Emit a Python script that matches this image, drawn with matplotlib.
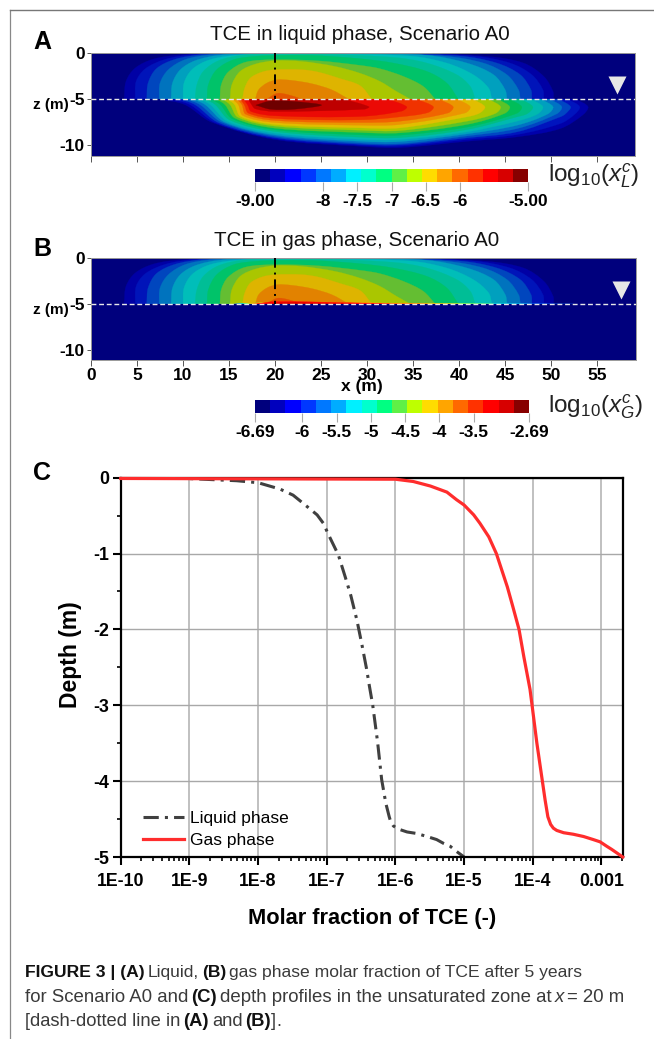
import numpy as np
import matplotlib
matplotlib.use('Agg')
import matplotlib.pyplot as plt
from matplotlib.colors import ListedColormap
from matplotlib.lines import Line2D
from matplotlib.path import Path
from matplotlib.patches import PathPatch, Rectangle
from matplotlib.ticker import FixedLocator, NullFormatter

plt.rcParams['font.family'] = ['Liberation Sans', 'DejaVu Sans']
plt.rcParams['mathtext.fontset'] = 'custom'
plt.rcParams['mathtext.rm'] = 'Liberation Sans'
plt.rcParams['mathtext.it'] = 'Liberation Sans:italic'

W, H = 654, 1039

# colour scale, bottom to top
band_rgb = [(0, 0, 125), (0, 0, 190), (0, 0, 255), (0, 55, 255), (0, 120, 255), (0, 172, 255),
            (0, 240, 255), (0, 255, 205), (0, 255, 130), (95, 240, 70), (190, 255, 0), (255, 220, 0),
            (255, 165, 0), (255, 105, 0), (255, 50, 0), (255, 0, 0), (215, 0, 0), (135, 0, 0)]
# the maps look duller than the colour bar
upper_rgb = [(0, 0, 165), (0, 20, 185), (0, 70, 190), (0, 115, 190), (0, 160, 190), (0, 190, 185),
             (0, 190, 150), (0, 195, 105), (100, 190, 50), (170, 198, 0), (222, 180, 0),
             (226, 130, 0), (228, 85, 0)]
lower_rgb = [(0, 0, 170), (0, 20, 190), (0, 70, 195), (0, 115, 195), (0, 160, 190), (0, 185, 175),
             (0, 190, 130), (0, 190, 90), (90, 195, 40), (170, 200, 0), (225, 190, 0), (235, 150, 0),
             (240, 100, 0), (240, 50, 0), (235, 10, 5), (190, 0, 0)]
core_rgb = (110, 0, 0)

# contours above the water table (x m, z m)
upper_x = [
    [3.6, 3.8, 4.8, 6.8, 9.85, 13.85, 34.7, 43, 47, 49.2, 50.2, 50.25],
    [4.8, 4.9, 5.9, 8.05, 10.95, 14.55, 32.85, 41.55, 45.55, 47.9, 49.1, 49.2],
    [6.05, 6.2, 7.1, 9.1, 12, 15.65, 31.05, 40.1, 44.1, 46.65, 47.8, 47.9],
    [7.4, 7.5, 8.4, 10.2, 12.75, 16.4, 29.25, 38.3, 42.65, 45.2, 46.45, 46.65],
    [8.7, 8.85, 9.7, 11.3, 13.85, 17.45, 29.25, 36.5, 40.85, 43.75, 45, 45.2],
    [10, 10.1, 10.95, 12.6, 14.9, 18.2, 24.7, 34.7, 38.65, 41.55, 43.2, 43.55],
    [11.3, 11.5, 12.2, 13.85, 16.4, 20, 24.7, 32.85, 36.5, 39.75, 41.2, 41.75],
    [12.6, 12.75, 13.65, 15.5, 17.85, 21.1, 24.7, 29.25, 32.85, 36.5, 38.65, 39.9],
    [14, 14.15, 14.9, 16.75, 20, 24.7, 29.25, 31.4, 33.95, 36.1, 37.4],
    [15.1, 15.3, 16.2, 17.85, 20, 22.9, 26.5, 29.25, 31.4, 33.2, 34.7],
    [16.45, 16.7, 17.3, 18.55, 20, 22.9, 24.7, 27, 29.25, 30.5],
    [17.85, 18.2, 19.1, 20.2, 21.8, 24, 26.15, 28],
    [19.1, 20.2, 21.45, 22.9],
]
upper_z = [
    [-5, -3.08, -1.63, -0.65, -0.18, -0.04, -0.04, -0.36, -1.09, -2.54, -4.17, -5],
    [-5, -3.08, -1.7, -0.69, -0.18, -0.05, -0.05, -0.33, -1.09, -2.36, -3.99, -5],
    [-5, -3.26, -1.7, -0.69, -0.18, -0.07, -0.07, -0.33, -1.09, -2.36, -3.99, -5],
    [-5, -3.26, -1.81, -0.72, -0.22, -0.07, -0.07, -0.33, -1.09, -2.36, -3.99, -5],
    [-5, -3.26, -1.81, -0.83, -0.25, -0.11, -0.11, -0.25, -1.09, -2.36, -3.99, -5],
    [-5, -3.26, -1.81, -0.83, -0.33, -0.14, -0.11, -0.33, -1.09, -2.36, -3.8, -5],
    [-5, -3.44, -1.99, -0.83, -0.25, -0.18, -0.14, -0.47, -1.09, -2.36, -3.62, -5],
    [-5, -3.44, -1.81, -0.72, -0.36, -0.25, -0.29, -0.62, -1.09, -2, -3.26, -5],
    [-5, -3.44, -2.07, -1.0, -0.72, -0.85, -1.34, -1.7, -2.54, -3.62, -5],
    [-5, -3.44, -1.99, -1.2, -0.83, -0.91, -1.45, -2.2, -3.08, -4.17, -5],
    [-5, -3.8, -2.72, -2.07, -1.81, -1.81, -2.07, -2.75, -3.55, -5],
    [-5, -4, -3.26, -2.9, -2.97, -3.33, -3.99, -5],
    [-5, -4.38, -4.53, -5],
]

# contours below the water table in panel A, one entry per colour band 1..16
start_x = [7.5, 8.8, 9.7, 10.4, 11.1, 11.85, 12.45, 13.05, 13.65, 14.3, 14.85, 15.4, 15.85, 16.2, 16.55, 17.1]
shoulder_x = [10.2, 10.75, 11.3, 11.85, 12.4, 12.95, 13.5, 14.05, 14.55, 15.1, 15.6, 16, 16.4, 16.65, 17, 17.45]
flank_x = [13.1, 13.55, 13.9, 14.2, 14.55, 14.85, 15.1, 15.35, 15.65, 15.95, 16.25, 16.5, 16.8, 17.1, 17.4, 17.85]
flank_z = [-7.5, -7.57, -7.57, -7.5, -7.5, -7.43, -7.28, -7.14, -7.07, -6.96, -6.88, -6.78, -6.63, -6.52, -6.34, -6.05]
section_x = [20, 29.25, 33.6, 40.85, 46.3, 51]
section_z = [
    [-9.38, -9.28, -9.17, -9.02, -8.88, -8.7, -8.51, -8.33, -8.15, -7.93, -7.75, -7.54, -7.32, -7.1, -6.81, -6.34],
    [-10.11, -10, -9.89, -9.75, -9.57, -9.35, -9.13, -8.88, -8.62, -8.37, -8.12, -7.83, -7.54, -7.25, -6.88, -6.2],
    [-10.25, -10.1, -9.95, -9.82, -9.6, -9.38, -9.17, -8.91, -8.66, -8.41, -8.12, -7.75, -7.39, -6.92, -6.2],
    [-9.57, -9.38, -9.2, -8.99, -8.77, -8.55, -8.3, -8.04, -7.75, -7.39, -6.92, -6.2],
    [-9.09, -8.84, -8.55, -8.19, -7.83, -7.39, -6.92, -6.3],
    [-8.19, -7.65, -6.92, -6.0],
]
tip_x = [54, 53.1, 52.1, 51.15, 50.2, 49.1, 48, 46.8, 45.5, 44.5, 42.8, 41.2, 39.35, 37.2, 34.3, 30.2]
tip_low_z = [-6.7, -6.65, -6.6, -6.6, -6.6, -6.6, -6.55, -6.55, -6.55, -6.55, -6.5, -6.5, -6.5, -6.45, -6.3, -6.1]
return_x = [52.7, 51.8, 50.8, 49.85, 48.9, 47.8, 46.7, 45.5, 44.2, 43.2, 41.5, 39.8, 37.8, 35.4, 32.3, 27.5]
core_x = [17.9, 19.5, 22, 25.05, 22, 19.5]
core_z = [-5.65, -5.2, -5.25, -5.65, -6.1, -6.1]

# thin strips on the water table in panel B
strip_x = [[15.5, 17, 30, 52.4], [16, 18, 30, 47.4], [16.5, 19, 30, 43.75], [17, 19.5, 30, 40.1],
           [17.5, 20, 28, 36.5], [18, 20, 27, 32.5], [19, 21, 24, 28]]
strip_z = [[-5, -4.93, -4.93, -5], [-5, -4.9, -4.92, -5], [-5, -4.86, -4.9, -5], [-5, -4.82, -4.88, -5],
           [-5, -4.78, -4.86, -5], [-5, -4.74, -4.85, -5], [-5, -4.85, -4.9, -5]]
strip_band = [4, 7, 10, 12, 13, 15, 16]

ticks_a = [-9, -8, -7.5, -7, -6.5, -6, -5]
ticklabels_a = ['-9.00', '-8', '-7.5', '-7', '-6.5', '-6', '-5.00']
ticks_b = [-6.69, -6, -5.5, -5, -4.5, -4, -3.5, -2.69]
ticklabels_b = ['-6.69', '-6', '-5.5', '-5', '-4.5', '-4', '-3.5', '-2.69']

# panel C depth profiles
liquid_log = [-9.3, -9.04, -8.31, -8, -7.68, -7.49, -7.34, -7.22, -7.14, -7.05, -6.98, -6.83, -6.73, -6.65, -6.56,
              -6.49, -6.42, -6.38, -6.33, -6.26, -6.2, -6.14, -6.09, -6.07, -6.03, -5.98, -5.93, -5.83, -5.69, -5.54,
              -5.4, -5.3, -5.2, -5.12, -5]
liquid_depth = [0, -0.01, -0.04, -0.066, -0.15, -0.23, -0.34, -0.43, -0.49, -0.6, -0.74, -1.02, -1.31, -1.55, -1.88,
                -2.19, -2.52, -2.74, -3, -3.48, -3.98, -4.29, -4.47, -4.53, -4.59, -4.62, -4.64, -4.67, -4.69, -4.73,
                -4.77, -4.82, -4.86, -4.92, -5]
gas_log = [-10, -6, -5.74, -5.49, -5.25, -5.11, -5, -4.86, -4.77, -4.64, -4.53, -4.45, -4.37, -4.29, -4.2, -4.13,
           -4.04, -4.01, -3.94, -3.86, -3.82, -3.78, -3.74, -3.7, -3.65, -3.55, -3.41, -3.26, -3.12, -3.02, -2.92,
           -2.85, -2.77, -2.69]
gas_depth = [-0.01, -0.02, -0.05, -0.11, -0.19, -0.29, -0.36, -0.49, -0.6, -0.78, -1, -1.22, -1.44, -1.7, -2, -2.36,
             -2.79, -3, -3.5, -4, -4.25, -4.47, -4.57, -4.62, -4.65, -4.68, -4.7, -4.73, -4.77, -4.8, -4.86,
             -4.9, -4.95, -5]
decades = [-10, -9, -8, -7, -6, -5, -4, -3]
decade_labels = ['1E-10', '1E-9', '1E-8', '1E-7', '1E-6', '1E-5', '1E-4', '0.001']


def rgb(c):
    return tuple(v / 255 for v in c)


def ax_px(x0, y0, x1, y1):
    return fig.add_axes([x0 / W, 1 - y1 / H, (x1 - x0) / W, (y1 - y0) / H])


def smooth_path(xs, zs):
    # chord-length Catmull-Rom through the read points, closed along the last-first chord
    p = np.column_stack([xs, zs]).astype(float)
    d = np.hypot(*np.diff(p, axis=0).T)
    slope = np.zeros_like(p)
    slope[0] = (p[1] - p[0]) / d[0]
    slope[-1] = (p[-1] - p[-2]) / d[-1]
    for i in range(1, len(p) - 1):
        slope[i] = (p[i + 1] - p[i - 1]) / (d[i - 1] + d[i])
    verts = [p[0]]
    codes = [Path.MOVETO]
    for i in range(len(p) - 1):
        verts += [p[i] + slope[i] * d[i] / 3, p[i + 1] - slope[i + 1] * d[i] / 3, p[i + 1]]
        codes += [Path.CURVE4] * 3
    verts.append(p[0])
    codes.append(Path.CLOSEPOLY)
    return Path(verts, codes)


def fill_contour(ax, xs, zs, colour, clip):
    patch = PathPatch(smooth_path(xs, zs), fc=colour, ec=colour, lw=0.2)
    ax.add_patch(patch)
    patch.set_clip_path(Rectangle((0, clip[0]), 59.5, clip[1] - clip[0], transform=ax.transData))


def map_axes(box, title, title_x, title_y, xmax, zmin):
    ax = ax_px(*box)
    ax.set_facecolor(rgb(band_rgb[0]))
    ax.set_xlim(0, xmax)
    ax.set_ylim(zmin, 0)
    for s in ax.spines.values():
        s.set_color('#999999')
        s.set_linewidth(0.7)
    ax.set_yticks([0, -5, -10])
    ax.set_yticklabels(['0', '-5', '-10'], fontsize=12.5, fontweight='bold')
    ax.set_xticks(np.arange(0, 56, 5))
    ax.tick_params(axis='x', color='#555555', length=4, width=0.7, pad=2)
    ax.tick_params(axis='y', color='#555555', length=3, width=0.7, pad=1.5)
    fig.text(title_x / W, 1 - title_y / H, title, fontsize=14.8, ha='center', va='center', color='#111111')
    return ax


def upper_plume(ax):
    for xs, zs, c in zip(upper_x, upper_z, upper_rgb):
        fill_contour(ax, xs, zs, rgb(c), (-5, 0))


def finish_map(ax, tri_x, zlabel_y):
    ax.plot([0, ax.get_xlim()[1]], [-5, -5], color='#e8e8e8', lw=1.0, ls=(0, (3.5, 2)), zorder=5)
    ax.plot([20, 20], [0, -5], color='black', lw=1.4, ls=(0, (5, 2.5, 1, 2.5)), zorder=5)
    ax.plot([tri_x], [-3.45], marker='v', ms=13, color='#e6e6e6', mec='none', zorder=6)
    fig.text(33 / W, 1 - zlabel_y / H, 'z (m)', fontsize=11, fontweight='bold', va='center')


def colorbar(box, lo, hi, ticks, labels, math_label, label_y):
    cax = ax_px(*box)
    edges = np.linspace(lo, hi, len(band_rgb) + 1)
    cax.pcolormesh(edges, [0, 1], np.arange(len(band_rgb)).reshape(1, -1),
                   cmap=ListedColormap([rgb(c) for c in band_rgb]))
    cax.set_yticks([])
    cax.set_xticks(ticks)
    cax.set_xticklabels(labels, fontsize=12.5, fontweight='bold')
    cax.tick_params(axis='x', length=6.5, width=0.8, color='#aaaaaa', pad=2)
    for s in cax.spines.values():
        s.set_visible(False)
    fig.text(548 / W, 1 - label_y / H, math_label, fontsize=17.5, va='center', color='#222222')


def caption_line(y, size, runs):
    x = 25
    rend = fig.canvas.get_renderer()
    for s, weight, style in runs:
        if s[0] in '].':
            x -= 3
        t = fig.text(x / W, 1 - y / H, s, fontsize=size, fontweight=weight, fontstyle=style, va='center',
                     color='#111111' if weight == 'bold' else '#3a3a3a')
        x = t.get_window_extent(rend).x1 + 3


fig = plt.figure(figsize=(W / 100, H / 100), dpi=100)

# frame of the page
fig.add_artist(Line2D([9.5 / W, 9.5 / W], [0, 1 - 10 / H], color='#888888', lw=0.9))
fig.add_artist(Line2D([9.5 / W, 1], [1 - 10 / H, 1 - 10 / H], color='#777777', lw=1.0))

for letter, y in zip('ABC', [42, 249, 473]):
    fig.text(33 / W, 1 - y / H, letter, fontsize=18, fontweight='bold', va='center')

# panel A
ax_a = map_axes((91, 53, 634.5, 156.3), 'TCE in liquid phase, Scenario A0', 360, 35, 59.05, -11.2)
ax_a.set_xticklabels([])
for k in range(16):
    xs = [start_x[k], shoulder_x[k], flank_x[k]]
    zs = [-5, -5.6, flank_z[k]]
    for sx, sz in zip(section_x, section_z):
        if k < len(sz) and sx < tip_x[k] - 1:
            xs.append(sx)
            zs.append(sz[k])
    xs += [tip_x[k] - 0.55, tip_x[k], return_x[k]]
    zs += [tip_low_z[k], -5.83, -5]
    fill_contour(ax_a, xs, zs, rgb(lower_rgb[k]), (-11.2, -5))
fill_contour(ax_a, core_x + core_x[:1], core_z + core_z[:1], rgb(core_rgb), (-11.2, -5))
upper_plume(ax_a)
finish_map(ax_a, 57.2, 105)

# panel B
ax_b = map_axes((91, 258, 636, 360), 'TCE in gas phase, Scenario A0', 357, 240, 59.2, -11.1)
ax_b.set_xticklabels([str(v) for v in range(0, 56, 5)], fontsize=12.5, fontweight='bold')
upper_plume(ax_b)
for xs, zs, b in zip(strip_x, strip_z, strip_band):
    fill_contour(ax_b, xs, zs, rgb(band_rgb[b]), (-5, 0))
finish_map(ax_b, 57.6, 310)
fig.text(362 / W, 1 - 386 / H, 'x (m)', fontsize=12.5, fontweight='bold', ha='center', va='center')

colorbar((255, 168.7, 528.3, 182), -9, -5, ticks_a, ticklabels_a, r'$\mathrm{log}_{10}(x_L^c)$', 176)
colorbar((255, 400, 529, 413.3), -6.69, -2.69, ticks_b, ticklabels_b, r'$\mathrm{log}_{10}(x_G^c)$', 407)

# panel C
ax_c = ax_px(120.7, 477.7, 622.7, 857)
ax_c.set_xscale('log')
ax_c.set_xlim(1e-10, 2.04e-3)
ax_c.set_ylim(-5, 0)
ax_c.grid(True, which='major', axis='x', color='#b5b5b5', lw=1.2)
ax_c.grid(True, which='major', axis='y', color='#a8a8a8', lw=1.0)
ax_c.set_axisbelow(True)
ax_c.plot(10.0 ** np.array(liquid_log), liquid_depth, color='#404040', lw=2.2, ls=(0, (5, 2, 1, 2)),
          label='Liquid phase')
ax_c.plot(10.0 ** np.array(gas_log), gas_depth, color='#ff2d2d', lw=2.3, label='Gas phase', clip_on=False, zorder=4)
ax_c.xaxis.set_major_locator(FixedLocator([10.0 ** d for d in decades]))
ax_c.set_xticklabels(decade_labels, fontsize=12.8, fontweight='bold')
minors = [m * 10.0 ** d for d in decades for m in range(2, 10) if m * 10.0 ** d < 2.04e-3]
ax_c.xaxis.set_minor_locator(FixedLocator(minors))
ax_c.xaxis.set_minor_formatter(NullFormatter())
ax_c.set_yticks([0, -1, -2, -3, -4, -5])
ax_c.set_yticklabels(['0', '-1', '-2', '-3', '-4', '-5'], fontsize=12.8, fontweight='bold')
ax_c.yaxis.set_minor_locator(FixedLocator([-0.5, -1.5, -2.5, -3.5, -4.5]))
ax_c.tick_params(axis='x', which='major', length=5.5, width=1.5, pad=6)
ax_c.tick_params(axis='y', which='major', length=5.5, width=1.5, pad=3)
ax_c.tick_params(axis='both', which='minor', length=3, width=1.2)
for s in ax_c.spines.values():
    s.set_linewidth(1.6)
ax_c.set_xlabel('Molar fraction of TCE (-)', fontsize=15.7, fontweight='bold', labelpad=13)
fig.text(70 / W, 1 - 655 / H, 'Depth (m)', fontsize=16.5, fontweight='bold', rotation=90, ha='center', va='center')
ax_c.legend(loc='lower left', bbox_to_anchor=(0.044, 0.023), frameon=False, fontsize=12.5, handlelength=2.4,
            handletextpad=0.3, labelspacing=0.4, borderpad=0, borderaxespad=0)

# caption
caption_line(972, 12.6, [('FIGURE 3 | (A)', 'bold', 'normal'), ('Liquid,', 'normal', 'normal'), ('(B)', 'bold', 'normal'),
                         ('gas phase molar fraction of TCE after 5 years', 'normal', 'normal')])
caption_line(997, 13.4, [('for Scenario A0 and', 'normal', 'normal'), ('(C)', 'bold', 'normal'),
                         ('depth profiles in the unsaturated zone at', 'normal', 'normal'), ('x', 'normal', 'italic'),
                         ('= 20 m', 'normal', 'normal')])
caption_line(1022, 13.2, [('[dash-dotted line in', 'normal', 'normal'), ('(A)', 'bold', 'normal'), ('and', 'normal', 'normal'),
                          ('(B)', 'bold', 'normal'), (']', 'normal', 'normal'), ('.', 'normal', 'normal')])

fig.savefig('out.png', dpi=100)
